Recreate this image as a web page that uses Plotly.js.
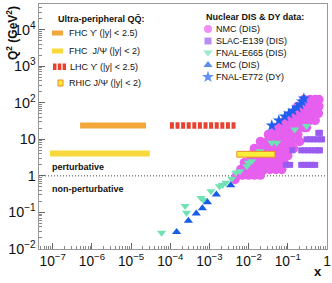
<!DOCTYPE html>
<html><head><meta charset="utf-8">
<script src="https://cdn.plot.ly/plotly-3.0.1.min.js"></script>
<style>html,body{margin:0;padding:0;background:#fff}#c{width:332px;height:283px}</style>
</head><body><div id="c"></div>
<script>
// ---- data ----
const nmcX = [
  0.26,0.37,0.5,0.62,
  0.18,0.26,0.37,0.5,0.62,
  0.125,0.18,0.26,0.37,0.5,0.6,
  0.085,0.125,0.18,0.26,0.37,0.5,
  0.045,0.065,0.09,0.125,0.18,0.26,0.3,
  0.032,0.045,0.065,0.09,0.125,0.18,
  0.02,0.03,0.045,0.065,0.09,0.125,0.2,
  0.014,0.022,0.032,0.045,0.065,0.09,0.14,
  0.011,0.016,0.022,0.032,0.045,0.065,0.1,
  0.0078,0.011,0.016,0.022,0.032,0.045,0.065,0.08,
  0.0063,0.009,0.0125,0.018,0.025,0.035,0.05,0.07,
  0.005,0.007,0.01,0.014,0.02,
  0.0045
];
const nmcQ2 = [
  122,122,122,122,
  79,79,79,79,79,
  51,51,51,51,51,51,
  33,33,33,33,33,33,
  21,21,21,21,21,21,21,
  13.5,13.5,13.5,13.5,13.5,13.5,
  8.7,8.7,8.7,8.7,8.7,8.7,8.7,
  5.6,5.6,5.6,5.6,5.6,5.6,5.6,
  3.6,3.6,3.6,3.6,3.6,3.6,3.6,
  2.3,2.3,2.3,2.3,2.3,2.3,2.3,2.3,
  1.5,1.5,1.5,1.5,1.5,1.5,1.5,1.5,
  1.05,1.05,1.05,1.05,1.05,
  0.8
];
const slacX = [0.6,0.66, 0.3,0.37,0.45,0.55,0.68,0.75, 0.13,0.22,0.27,0.33,0.4,0.5,0.6,0.66, 0.089,0.115,0.22,0.27,0.33,0.4,0.5];
const slacQ2 = [15,15, 10,10,10,10,10,10, 5,5,5,5,5,5,5,5, 2,2,2,2,2,2,2];
const e665X = [6.0e-5,2.4e-4,2.6e-4,6.1e-4,7.0e-4,1.09e-3,1.8e-3,2.15e-3,2.6e-3,3.7e-3,4.7e-3,6.0e-3,9.0e-3,9.8e-3,0.012,0.0194,0.039,0.052,0.15,0.30];
const e665Q2 = [0.028,0.15,0.098,0.25,0.22,0.38,0.52,0.56,0.65,0.83,1.22,1.34,1.84,2.3,2.5,4.7,8.0,8.0,18.5,23];
const emcX = [1.45e-4,2.9e-4,4.6e-4,6.6e-4,8.9e-4,1.5e-3,3.5e-3];
const emcQ2 = [0.029,0.059,0.093,0.13,0.19,0.31,0.55];
const e772X = [0.039,0.059,0.084,0.107,0.135,0.171,0.204,0.23,0.257];
const e772Q2 = [23.8,32.7,42,50.7,61,74,89,108,130];
// ultra-peripheral ranges: [xmin, xmax], Q2
const fhcUpsX = [5.0e-7, 2.4e-5]; const fhcUpsQ2 = 24;
const fhcJpsiX = [8.5e-8, 3.0e-5]; const fhcJpsiQ2 = 4.1;
const lhcUpsX = [9.8e-5, 5.0e-3]; const lhcUpsQ2 = 24;
const rhicJpsiX = [5.0e-3, 0.047]; const rhicJpsiQ2 = 3.9;
const pertBoundary = 1;

const upLegend = ['FHC \u03D2 (|y| &lt; 2.5)', 'FHC  J/\u03A8 (|y| &lt; 2)', 'LHC \u03D2 (|y| &lt; 2.5)', 'RHIC J/\u03A8 (|y| &lt; 2)'];
const dataLegend = ['NMC (DIS)', 'SLAC-E139 (DIS)', 'FNAL-E665 (DIS)', 'EMC (DIS)', 'FNAL-E772 (DY)'];

// ---- style ----
const C = {nmc:'#e65fee', slac:'#9a5cf0', e665:'#6fe3b4', emc:'#175de6', e772:'#1f5ff0',
  fhcU:'#f3a63a', fhcJ:'#f8d83c', lhc:'#e8412f', rhicF:'#fbee3b', rhicL:'#ec8a2c'};
const F = 'Liberation Sans, Arial, Helvetica, sans-serif';
const L = 39, R = 5, T = 4, B = 34, W = 332, H = 283;
const fx = px => (px - L) / (W - L - R);
const fy = py => (H - B - py) / (H - T - B);

const mk = (x, y, sym, col, sz, name) => ({type:'scatter', mode:'markers', x, y, name,
  marker:{symbol:sym, color:col, size:sz, line:{width:0}}, hoverinfo:'skip', showlegend:false, cliponaxis:true});
const band = (xr, q, col, w, dash) => ({type:'scatter', mode:'lines', x:xr, y:[q,q],
  line:{color:col, width:w, dash:dash||'solid'}, hoverinfo:'skip', showlegend:false});

const traces = [
  mk(nmcX, nmcQ2, 'circle', C.nmc, 9.5, dataLegend[0]),
  mk(slacX, slacQ2, 'square', C.slac, 6, dataLegend[1]),
  mk(e665X, e665Q2, 'triangle-down', C.e665, 8, dataLegend[2]),
  mk(emcX, emcQ2, 'triangle-up', C.emc, 8, dataLegend[3]),
  mk(e772X, e772Q2, 'star', C.e772, 9, dataLegend[4]),
  band(fhcUpsX, fhcUpsQ2, C.fhcU, 6),
  band(fhcJpsiX, fhcJpsiQ2, C.fhcJ, 6),
  band(lhcUpsX, lhcUpsQ2, C.lhc, 6.5, '4px,1.6px'),
];
// legend marker keys on an overlay axis (paper-like)
const keyY = [29, 41, 52.5, 65, 77].map(fy);
const keyTr = {type:'scatter', mode:'markers', xaxis:'x2', yaxis:'y2', x:keyY.map(()=>fx(208)), y:keyY,
  marker:{symbol:['circle','square','triangle-down','triangle-up','star'], color:[C.nmc,C.slac,C.e665,C.emc,C.e772], size:[8,7,8,8,9], line:{width:0}},
  hoverinfo:'skip', showlegend:false, cliponaxis:false};
traces.push(keyTr);

const f = Math.pow(10, 0.08);
const shapes = [
  {type:'line', xref:'paper', x0:0, x1:1, yref:'y', y0:pertBoundary, y1:pertBoundary, line:{color:'#444', width:1, dash:'1px,2px'}, layer:'below'},
  {type:'rect', xref:'x', yref:'y', x0:rhicJpsiX[0], x1:rhicJpsiX[1], y0:rhicJpsiQ2/f, y1:rhicJpsiQ2*f, fillcolor:C.rhicF, line:{color:C.rhicL, width:1}, layer:'above'},
  // legend keys (left box)
  {type:'rect', xref:'paper', yref:'paper', x0:fx(52), x1:fx(63), y0:fy(35.5), y1:fy(30.5), fillcolor:C.fhcU, line:{width:0}},
  {type:'rect', xref:'paper', yref:'paper', x0:fx(52), x1:fx(63), y0:fy(53.5), y1:fy(48.5), fillcolor:C.fhcJ, line:{width:0}},
  {type:'rect', xref:'paper', yref:'paper', x0:fx(53), x1:fx(56.5), y0:fy(70), y1:fy(63.5), fillcolor:C.lhc, line:{width:0}},
  {type:'rect', xref:'paper', yref:'paper', x0:fx(57.8), x1:fx(61.3), y0:fy(70), y1:fy(63.5), fillcolor:C.lhc, line:{width:0}},
  {type:'rect', xref:'paper', yref:'paper', x0:fx(62.6), x1:fx(66), y0:fy(70), y1:fy(63.5), fillcolor:C.lhc, line:{width:0}},
  {type:'rect', xref:'paper', yref:'paper', x0:fx(58), x1:fx(63), y0:fy(86), y1:fy(80), fillcolor:C.rhicF, line:{color:C.rhicL, width:1}},
];

const ann = (text, px, py, opt) => Object.assign({xref:'paper', yref:'paper', x:fx(px), y:fy(py), text,
  showarrow:false, xanchor:'left', yanchor:'middle', font:{family:F, size:9, color:'#111'}}, opt||{});
const annotations = [
  ann('<b>Ultra-peripheral QQ\u0304:</b>', 56, 19.3),
  ann(upLegend[0], 67, 33), ann(upLegend[1], 67, 51), ann(upLegend[2], 68, 67), ann(upLegend[3], 67, 83),
  ann('<b>Nuclear DIS &amp; DY data:</b>', 204, 16.7),
  ann(dataLegend[0], 214, 29), ann(dataLegend[1], 214, 41), ann(dataLegend[2], 214, 52.5), ann(dataLegend[3], 214, 65), ann(dataLegend[4], 214, 77),
  ann('<b>perturbative</b>', 50, 166.7),
  ann('<b>non-perturbative</b>', 50, 189),
  ann('<b>Q<sup>2</sup> (GeV<sup>2</sup>)</b>', 12, 33, {xanchor:'center', textangle:-90, font:{family:F, size:12, color:'#111'}}),
  ann('<b>x</b>', 318, 271, {xanchor:'center', font:{family:F, size:13, color:'#111'}}),
];

const axBase = {type:'log', showgrid:false, zeroline:false, showline:true, linecolor:'#999', linewidth:1, mirror:true,
  ticks:'inside', ticklen:6, tickcolor:'#666', dtick:1, exponentformat:'power',
  tickfont:{family:F, size:11, color:'#111'},
  minor:{ticks:'inside', ticklen:3, tickcolor:'#888', dtick:'D1', showgrid:false}};
const layout = {
  width:W, height:H, margin:{l:L, r:R, t:T, b:B}, paper_bgcolor:'#fff', plot_bgcolor:'#fff',
  xaxis:Object.assign({}, axBase, {range:[-7.35, 0.0]}),
  yaxis:Object.assign({}, axBase, {range:[-2, 4.7], tickfont:{family:F, size:11.5, color:'#111'}}),
  xaxis2:{overlaying:'x', anchor:'y2', range:[0,1], visible:false, fixedrange:true},
  yaxis2:{overlaying:'y', anchor:'x2', range:[0,1], visible:false, fixedrange:true},
  shapes, annotations, showlegend:false
};
Plotly.newPlot('c', traces, layout, {staticPlot:true, displayModeBar:false});
</script></body></html>
